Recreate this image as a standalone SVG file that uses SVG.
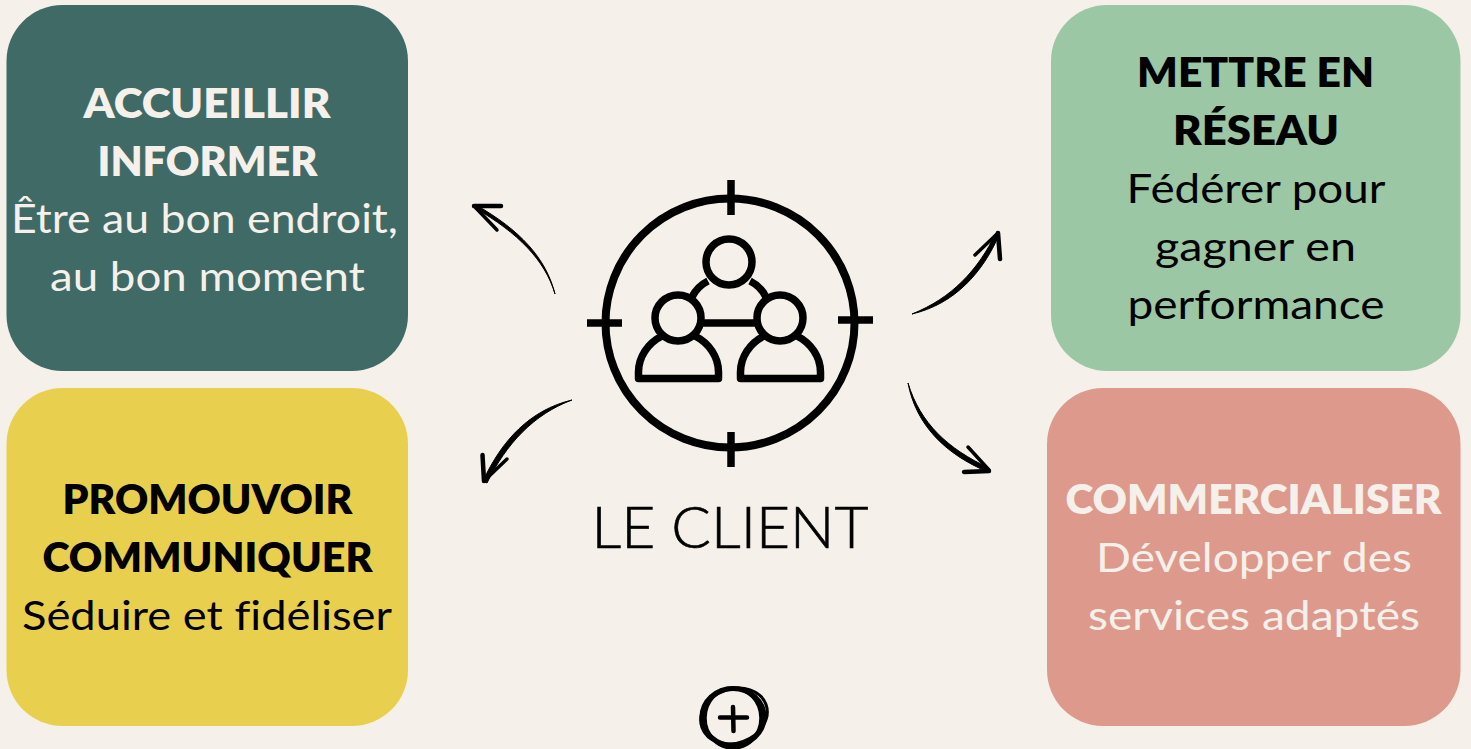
<svg xmlns="http://www.w3.org/2000/svg" width="1471" height="749" viewBox="0 0 1471 749">
<style>
text{font-family:"Lato","Open Sans","Liberation Sans",sans-serif;font-size:41px;text-anchor:middle;font-variant-ligatures:none}
.b{font-weight:800}
.l{fill:#f5f0ea}
.d{fill:#000}
.i{fill:none;stroke:#000;stroke-width:7.500}
.a{fill:#000;stroke:#000;stroke-width:1;stroke-linejoin:round}
.s{fill:none;stroke:#000;stroke-linecap:round}
</style>
<rect width="1471" height="749" fill="#f5f0ea"/>
<g id="node-accueillir">
<rect x="6.500" y="5" width="401.500" height="366" rx="56" fill="#3f6a66"/>
<text class="b l" x="207" y="117.500" textLength="247" lengthAdjust="spacingAndGlyphs">ACCUEILLIR</text>
<text class="b l" x="207.500" y="175.500" textLength="220" lengthAdjust="spacingAndGlyphs">INFORMER</text>
<text class="l" x="204.500" y="233" textLength="387" lengthAdjust="spacingAndGlyphs">Être au bon endroit,</text>
<text class="l" x="207.500" y="291" textLength="315" lengthAdjust="spacingAndGlyphs">au bon moment</text>
</g>
<g id="node-mettre-en-reseau">
<rect x="1051" y="5" width="409.500" height="366" rx="56" fill="#9bc7a4"/>
<text class="b d" x="1255.500" y="87" textLength="237" lengthAdjust="spacingAndGlyphs">METTRE EN</text>
<text class="b d" x="1256" y="145" textLength="166" lengthAdjust="spacingAndGlyphs">RÉSEAU</text>
<text class="d" x="1256" y="203" textLength="259" lengthAdjust="spacingAndGlyphs">Fédérer pour</text>
<text class="d" x="1255.500" y="261" textLength="201" lengthAdjust="spacingAndGlyphs">gagner en</text>
<text class="d" x="1256" y="319" textLength="257" lengthAdjust="spacingAndGlyphs">performance</text>
</g>
<g id="node-promouvoir">
<rect x="6.500" y="388" width="401.500" height="338" rx="56" fill="#e8d04e"/>
<text class="b d" x="207.500" y="514" textLength="290" lengthAdjust="spacingAndGlyphs">PROMOUVOIR</text>
<text class="b d" x="207.500" y="572" textLength="330" lengthAdjust="spacingAndGlyphs">COMMUNIQUER</text>
<text class="d" x="207" y="630" textLength="370" lengthAdjust="spacingAndGlyphs">Séduire et fidéliser</text>
</g>
<g id="node-commercialiser">
<rect x="1047" y="388" width="413.500" height="338" rx="56" fill="#dd9a8c"/>
<text class="b l" x="1253.500" y="514" textLength="376" lengthAdjust="spacingAndGlyphs">COMMERCIALISER</text>
<text class="l" x="1254" y="572" textLength="316" lengthAdjust="spacingAndGlyphs">Développer des</text>
<text class="l" x="1254" y="630" textLength="332" lengthAdjust="spacingAndGlyphs">services adaptés</text>
</g>
<g id="node-client">
<circle class="i" cx="730" cy="323" r="124.500" style="stroke-width:8"/>
<path class="i" d="M731 180V215M731 432V467M587 323H622M838 320H873"/>
<circle class="i" cx="729" cy="262" r="23"/>
<circle class="i" cx="678" cy="318" r="23"/>
<circle class="i" cx="780" cy="318" r="23"/>
<path class="i" stroke-linejoin="round" d="M662 336C648 343 638.500 357 638.500 372V378.500H718.500V372C718.500 357 709 343 695 336"/>
<path class="i" stroke-linejoin="round" d="M764 336C750 343 740.500 357 740.500 372V378.500H820.500V372C820.500 357 811 343 797 336"/>
<path class="i" d="M708 281C700 285 695 291 692 297M750 281C758 285 763 291 766 297M702 323H756"/>
<text x="730" y="548" style="font-size:58px;font-weight:300;stroke:#000;stroke-width:.6" fill="#000" textLength="277" lengthAdjust="spacingAndGlyphs">LE CLIENT</text>
</g>
<g id="connectors">
<path class="a" d="M555 294C546 258 520 230 476 205L475 208C518 233 545 260 555 294Z"/>
<path class="s" stroke-width="4.500" d="M474 206H501"/>
<path class="s" stroke-width="3.500" d="M474 206L497 230"/>
<path class="a" d="M572 400C530 410 502 440 483 481L487 483C506 444 534 414 572 400Z"/>
<path class="s" stroke-width="4.500" d="M484 481L482.500 455"/>
<path class="s" stroke-width="3.500" d="M484 481L507 459"/>
<path class="a" d="M912 314C955 304 983 272 999 235L996 233C978 270 952 298 912 314Z"/>
<path class="s" stroke-width="3.500" d="M998 233L975 255"/>
<path class="s" stroke-width="4.500" d="M998 233L1000 259"/>
<path class="a" d="M908 383C916 425 945 454 988 472L989 468C948 449 920 423 908 383Z"/>
<path class="s" stroke-width="3.500" d="M989 470L968 447"/>
<path class="s" stroke-width="4.500" d="M989 471L964 472"/>
</g>
<g id="node-plus" fill="none" stroke="#000">
<ellipse cx="733" cy="717" rx="31" ry="28.500" stroke-width="5"/>
<ellipse cx="734" cy="716" rx="34" ry="27" stroke-width="3" transform="rotate(-20 734 716)"/>
<ellipse cx="733" cy="718" rx="28" ry="30" stroke-width="3.500"/>
<path stroke-width="4.500" stroke-linecap="round" d="M720 717.500H747M733 707L733.500 731"/>
</g>
</svg>
